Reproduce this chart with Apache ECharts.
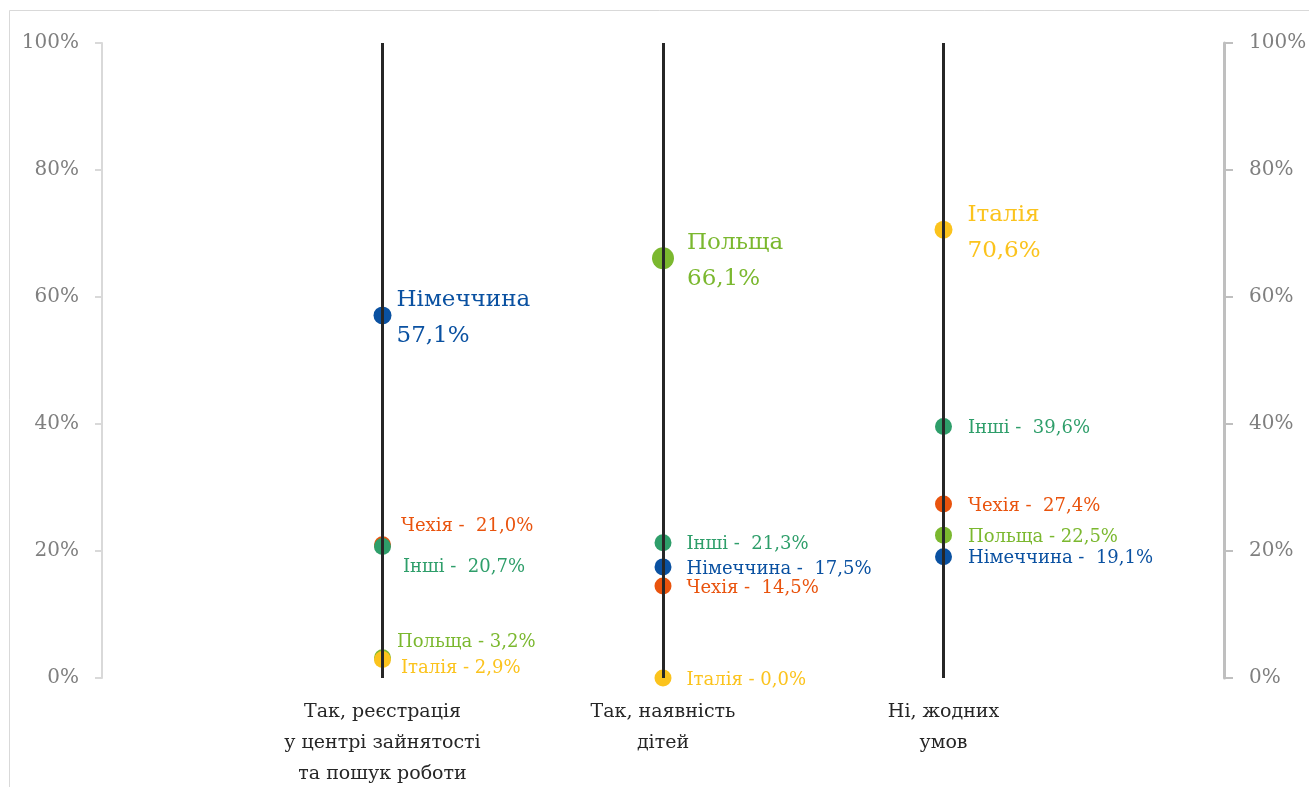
<!DOCTYPE html>
<html>
<head>
<meta charset="utf-8">
<script src="https://cdn.jsdelivr.net/npm/echarts@6/dist/echarts.min.js"></script>
<style>
  html, body { margin: 0; padding: 0; background: #fff; }
  #chart { width: 1309px; height: 787px; }
</style>
</head>
<body>
<div id="chart"></div>
<script>
// категорії (по осі X стоять на 1, 2, 3)
const categories = [
  "Так, реєстрація\nу центрі зайнятості\nта пошук роботи",
  "Так, наявність\nдітей",
  "Ні, жодних\nумов",
];
const yTicks = [0, 20, 40, 60, 80, 100];

// значення по країнах, %
const germany = [57.1, 17.5, 19.1];
const czechia = [21.0, 14.5, 27.4];
const others = [20.7, 21.3, 39.6];
const poland = [3.2, 66.1, 22.5];
const italy = [2.9, 0.0, 70.6];

const countries = [
  { name: "Німеччина", values: germany, color: "#0a51a1", sep: " -  " },
  { name: "Чехія", values: czechia, color: "#e9530d", sep: " -  " },
  { name: "Інші", values: others, color: "#2e9e6a", sep: " -  " },
  { name: "Польща", values: poland, color: "#7bb82f", sep: " - " },
  { name: "Італія", values: italy, color: "#fbc31d", sep: " - " },
];

// зсуви підписів біля точок, щоб не накладались [dx, dy] по категоріях
const labelShift = {
  "Німеччина": [[0, 3], [0, 2], [0, 2]],
  "Чехія": [[5, -18], [0, 2], [0, 2]],
  "Інші": [[7, 21], [0, 2], [0, 2]],
  "Польща": [[1, -15], [0, 3], [0, 2]],
  "Італія": [[5, 9], [0, 2], [0, 3]],
};

const fmt = (v) => v.toFixed(1).replace(".", ",");
const FONT = "DejaVu Serif";

const myChart = echarts.init(document.getElementById("chart"));

// лідер у кожній категорії підписується великим шрифтом
const leaders = categories.map((c, i) => {
  let best = countries[0];
  countries.forEach((ct) => {
    if (ct.values[i] > best.values[i]) best = ct;
  });
  return best.name;
});

const series = countries.map((ct) => ({
  name: ct.name,
  type: "scatter",
  z: 3,
  itemStyle: { color: ct.color, opacity: 1 },
  data: ct.values.map((v, i) => {
    const big = leaders[i] === ct.name;
    const shift = labelShift[ct.name][i];
    return {
      value: [i + 1, v],
      symbolSize: big ? (ct.name === "Польща" ? 22 : 18) : 17,
      label: {
        show: true,
        position: "right",
        distance: big ? [5, 13, 15][i] : [5, 15, 16][i],
        offset: shift,
        color: ct.color,
        fontFamily: FONT,
        fontSize: big ? 23 : 18,
        lineHeight: big ? 36 : 22,
        formatter: big
          ? ct.name + "\n" + fmt(v) + "%"
          : ct.name + ct.sep + fmt(v) + "%",
      },
    };
  }),
}));

// вертикальні лінії для кожної категорії
series.unshift({
  type: "line",
  data: [],
  z: 1,
  markLine: {
    silent: true,
    symbol: "none",
    label: { show: false },
    lineStyle: { color: "#262626", width: 3, type: "solid" },
    data: categories.map((c, i) => ({ xAxis: i + 1 })),
  },
});

const yAxisBase = {
  type: "value",
  min: yTicks[0],
  max: yTicks[yTicks.length - 1],
  interval: 20,
  splitLine: { show: false },
  axisTick: { show: true, length: 7 },
  axisLabel: {
    formatter: "{value}%",
    color: "#7f7f7f",
    fontFamily: FONT,
    fontSize: 20,
  },
};

const option = {
  backgroundColor: "#fff",
  animation: false,
  graphic: [
    {
      type: "rect",
      silent: true,
      shape: { x: 9.5, y: 10.5, width: 1400, height: 900 },
      style: { fill: "none", stroke: "#d9d9d9", lineWidth: 1 },
    },
  ],
  grid: {
    left: 102,
    right: 85,
    top: 43,
    bottom: 109,
    outerBoundsMode: "none",
    containLabel: false,
  },
  xAxis: {
    type: "value",
    min: 0,
    max: 4,
    interval: 1,
    axisLine: { show: false },
    axisTick: { show: false },
    splitLine: { show: false },
    axisLabel: {
      margin: 19,
      color: "#262626",
      fontFamily: FONT,
      fontSize: 19,
      lineHeight: 31,
      align: "center",
      formatter: (v) => categories[v - 1] || "",
    },
  },
  yAxis: [
    Object.assign({}, yAxisBase, {
      position: "left",
      axisLine: { show: true, lineStyle: { color: "#d9d9d9", width: 2 } },
      axisTick: { show: true, length: 7, lineStyle: { color: "#d9d9d9", width: 2 } },
      axisLabel: Object.assign({}, yAxisBase.axisLabel, { margin: 23 }),
    }),
    Object.assign({}, yAxisBase, {
      position: "right",
      axisLine: { show: true, lineStyle: { color: "#bfbfbf", width: 3 } },
      axisTick: { show: true, length: 9, lineStyle: { color: "#bfbfbf", width: 2 } },
      axisLabel: Object.assign({}, yAxisBase.axisLabel, { margin: 25 }),
    }),
  ],
  series: series,
};

myChart.setOption(option);
</script>
</body>
</html>
